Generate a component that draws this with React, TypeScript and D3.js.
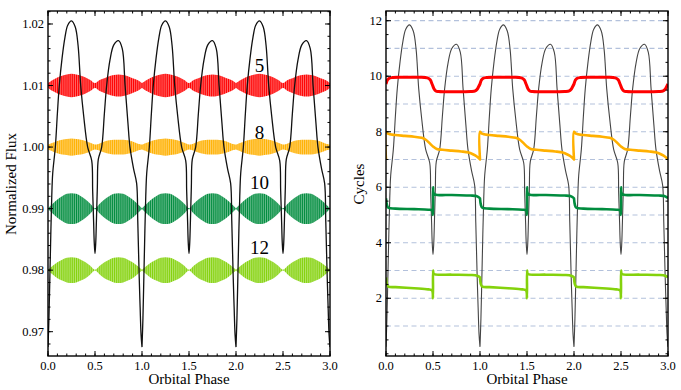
import React from "react";
import * as d3 from "d3";

const W = 681;
const H = 390;
const serif = "'Liberation Serif', 'Times New Roman', serif";

// the plot repeats one orbit three times
const orbits = [0, 1, 2];
const phaseTicks = [0, 0.5, 1, 1.5, 2, 2.5, 3];
const fluxTicks = [0.97, 0.98, 0.99, 1.0, 1.01, 1.02];
const cycleTicks = [2, 4, 6, 8, 10, 12];
const cycleGrid = [1, 2, 3, 4, 5, 6, 7, 8, 9, 10, 11, 12];

// light curve, one orbit
const lcPhase = [0, 0.01, 0.02, 0.03, 0.04, 0.05, 0.078, 0.1, 0.12, 0.15, 0.18, 0.21, 0.25, 0.29, 0.32, 0.348, 0.38, 0.422, 0.465, 0.475, 0.485, 0.492, 0.5, 0.508, 0.515, 0.525, 0.535, 0.571, 0.6, 0.624, 0.66, 0.7, 0.75, 0.79, 0.82, 0.85, 0.872, 0.91, 0.943, 0.955, 0.97, 0.98, 0.99, 1.0];
const lcFlux = [0.9675, 0.9722, 0.979, 0.986, 0.992, 0.9957, 1.0, 1.0055, 1.01, 1.0145, 1.0178, 1.0198, 1.0205, 1.0195, 1.0165, 1.01, 1.005, 1.0, 0.9978, 0.993, 0.988, 0.9845, 0.9827, 0.9845, 0.988, 0.9935, 0.998, 1.0, 1.0055, 1.01, 1.0142, 1.0166, 1.0173, 1.016, 1.01, 1.004, 1.0, 0.9965, 0.9941, 0.988, 0.979, 0.974, 0.9695, 0.9675];

// pulsation bands (half-width of the envelope, one orbit)
const bandNames = ["5", "8", "10", "12"];
const bandColors = ["#ff0000", "#ffb000", "#008c3e", "#84d20c"];
const bandCenters = [1.01, 1.0, 0.99, 0.98];
const bandLabelFlux = [1.0133, 1.0024, 0.9942, 0.9837];
const envPhase = [0, 0.05, 0.1, 0.15, 0.2, 0.25, 0.3, 0.35, 0.4, 0.45, 0.5, 0.55, 0.6, 0.65, 0.7, 0.75, 0.8, 0.85, 0.9, 0.95, 1.0];
const envRed = [0.0004, 0.0009, 0.0013, 0.0016, 0.0018, 0.0019, 0.0018, 0.0016, 0.0013, 0.0009, 0.0004, 0.0009, 0.0012, 0.0015, 0.0017, 0.0018, 0.0017, 0.0015, 0.0012, 0.0009, 0.0004];
const envOrange = [0.0004, 0.0007, 0.001, 0.0012, 0.0013, 0.0014, 0.0013, 0.0012, 0.001, 0.0007, 0.0004, 0.0006, 0.0009, 0.0011, 0.0012, 0.0012, 0.0012, 0.0011, 0.0009, 0.0006, 0.0004];
const envDarkGreen = [0.00005, 0.0008, 0.0015, 0.002, 0.0024, 0.0025, 0.0024, 0.002, 0.0015, 0.0008, 0.00005, 0.0008, 0.0015, 0.002, 0.0024, 0.0025, 0.0024, 0.002, 0.0015, 0.0008, 0.00005];
const envLightGreen = [0.00005, 0.0007, 0.0013, 0.0017, 0.002, 0.0021, 0.002, 0.0017, 0.0013, 0.0007, 0.00005, 0.0007, 0.0013, 0.0017, 0.002, 0.0021, 0.002, 0.0017, 0.0013, 0.0007, 0.00005];
const bandEnvs = [envRed, envOrange, envDarkGreen, envLightGreen];

// cycle curves, one orbit (right panel)
const redPhase = [0, 0.015, 0.03, 0.06, 0.2, 0.35, 0.44, 0.47, 0.49, 0.51, 0.53, 0.56, 0.75, 0.9, 0.95, 0.97, 0.985, 1.0];
const redCycles = [9.72, 9.86, 9.92, 9.95, 9.96, 9.96, 9.94, 9.87, 9.72, 9.55, 9.47, 9.45, 9.44, 9.45, 9.47, 9.53, 9.62, 9.72];
const orangePhase = [0, 0, 0.02, 0.1, 0.2, 0.3, 0.38, 0.42, 0.46, 0.5, 0.54, 0.6, 0.7, 0.8, 0.88, 0.93, 0.97, 1.0];
const orangeCycles = [7.0, 8.0, 7.93, 7.88, 7.85, 7.82, 7.78, 7.72, 7.6, 7.47, 7.38, 7.35, 7.32, 7.29, 7.25, 7.18, 7.1, 7.0];
const dGreenPhase = [0, 0.01, 0.025, 0.1, 0.3, 0.45, 0.49, 0.5, 0.5, 0.505, 0.52, 0.7, 0.9, 0.95, 0.97, 0.99, 1.0];
const dGreenCycles = [5.6, 5.36, 5.26, 5.23, 5.21, 5.19, 5.17, 5.0, 6.0, 5.8, 5.74, 5.72, 5.7, 5.69, 5.67, 5.63, 5.6];
const lGreenPhase = [0, 0.01, 0.025, 0.1, 0.3, 0.45, 0.49, 0.5, 0.5, 0.505, 0.52, 0.7, 0.9, 0.95, 0.97, 0.99, 1.0];
const lGreenCycles = [2.75, 2.5, 2.42, 2.4, 2.36, 2.32, 2.28, 2.0, 3.0, 2.9, 2.86, 2.85, 2.84, 2.83, 2.81, 2.78, 2.75];
const cycleSeries = [
  { phase: redPhase, cycles: redCycles, color: "#ff0000", width: 3 },
  { phase: orangePhase, cycles: orangeCycles, color: "#ffb000", width: 2.6 },
  { phase: dGreenPhase, cycles: dGreenCycles, color: "#008c3e", width: 2.6 },
  { phase: lGreenPhase, cycles: lGreenCycles, color: "#84d20c", width: 2.6 },
];

function tile(phase: number[], vals: number[]): [number, number][] {
  return orbits.flatMap((k) => phase.map((p, i) => [p + k, vals[i]] as [number, number]));
}

const top = 11;
const bottom = 356;
const xL = d3.scaleLinear().domain([0, 3]).range([48, 330]);
const xR = d3.scaleLinear().domain([0, 3]).range([386, 668]);
const yL = d3.scaleLinear().domain([0.96605, 1.02211]).range([bottom, top]);
const yR = d3.scaleLinear().domain([-0.08, 12.35]).range([bottom, top]);
// light curve drawn in the cycles panel on its own scale
const fluxToCycles = d3.scaleLinear().domain([0.9675, 1.0205]).range([0.25, 11.85]);

const phaseMinor = d3.range(0, 31).map((i) => i / 10);
const fluxMinor = d3.range(483, 512).map((i) => i * 0.002).filter((v) => v >= 0.96605 && v <= 1.02211);
const cycleMinor = d3.range(0, 25).map((i) => i * 0.5);

function Frame({ x, y, xMajor, xMinor, yMajor, yMinor, yFmt }: any) {
  const [x0, x1] = x.range();
  const [y0, y1] = y.range();
  const maj = 5;
  const min = 2.5;
  return (
    <g>
      {xMinor.map((v: number) => (
        <g key={"xm" + v}>
          <line x1={x(v)} x2={x(v)} y1={y0} y2={y0 - min} stroke="#000" />
          <line x1={x(v)} x2={x(v)} y1={y1} y2={y1 + min} stroke="#000" />
        </g>
      ))}
      {yMinor.map((v: number) => (
        <g key={"ym" + v}>
          <line x1={x0} x2={x0 + min} y1={y(v)} y2={y(v)} stroke="#000" />
          <line x1={x1} x2={x1 - min} y1={y(v)} y2={y(v)} stroke="#000" />
        </g>
      ))}
      {xMajor.map((v: number) => (
        <g key={"xM" + v}>
          <line x1={x(v)} x2={x(v)} y1={y0} y2={y0 - maj} stroke="#000" />
          <line x1={x(v)} x2={x(v)} y1={y1} y2={y1 + maj} stroke="#000" />
          <text x={x(v)} y={y0 + 13.5} textAnchor="middle" fontSize={12.5} fontFamily={serif}>
            {d3.format(".1f")(v)}
          </text>
        </g>
      ))}
      {yMajor.map((v: number) => (
        <g key={"yM" + v}>
          <line x1={x0} x2={x0 + maj} y1={y(v)} y2={y(v)} stroke="#000" />
          <line x1={x1} x2={x1 - maj} y1={y(v)} y2={y(v)} stroke="#000" />
          <text x={x0 - 4} y={y(v)} dy="0.33em" textAnchor="end" fontSize={12.5} fontFamily={serif}>
            {yFmt(v)}
          </text>
        </g>
      ))}
      <rect x={x0} y={y1} width={x1 - x0} height={y0 - y1} fill="none" stroke="#000" strokeWidth={1.4} />
    </g>
  );
}

export default function App() {
  const lc = tile(lcPhase, lcFlux);
  const smooth = d3.curveCatmullRom.alpha(0.5);
  const lcLineL = d3.line<[number, number]>().x((d) => xL(d[0])).y((d) => yL(d[1])).curve(smooth);
  const lcLineR = d3.line<[number, number]>().x((d) => xR(d[0])).y((d) => yR(fluxToCycles(d[1]))).curve(smooth);
  const cycLine = d3.line<[number, number]>().x((d) => xR(d[0])).y((d) => yR(d[1])).curve(smooth);

  return (
    <svg width={W} height={H} style={{ position: "absolute", left: 0, top: 0, background: "#fff" }}>
      <defs>
        <clipPath id="clipL">
          <rect x={48} y={top} width={282} height={bottom - top} />
        </clipPath>
        <clipPath id="clipR">
          <rect x={386} y={top} width={282} height={bottom - top} />
        </clipPath>
        {bandColors.map((c, i) => (
          <pattern key={c} id={"stripe" + i} patternUnits="userSpaceOnUse" width={1.9} height={6}>
            <rect width={1.9} height={6} fill={d3.interpolateRgb(c, "#fff")(0.4)} />
            <rect width={0.95} height={6} fill={c} />
          </pattern>
        ))}
      </defs>

      {/* left panel */}
      <g clipPath="url(#clipL)">
        {bandCenters.map((c, i) => {
          const env = tile(envPhase, bandEnvs[i]);
          const area = d3
            .area<[number, number]>()
            .x((d) => xL(d[0]))
            .y0((d) => yL(c - d[1]))
            .y1((d) => yL(c + d[1]))
            .curve(smooth);
          return <path key={i} d={area(env) || ""} fill={`url(#stripe${i})`} />;
        })}
        <path d={lcLineL(lc) || ""} fill="none" stroke="#111" strokeWidth={1.3} />
      </g>
      {bandNames.map((n, i) => (
        <text key={n} x={xL(2.25)} y={yL(bandLabelFlux[i])} dy="0.35em" textAnchor="middle" fontSize={19} fontFamily={serif}>
          {n}
        </text>
      ))}
      <Frame x={xL} y={yL} xMajor={phaseTicks} xMinor={phaseMinor} yMajor={fluxTicks} yMinor={fluxMinor} yFmt={d3.format(".2f")} />
      <text x={189} y={384} textAnchor="middle" fontSize={15} fontFamily={serif}>
        Orbital Phase
      </text>
      <text transform="translate(15.5,184) rotate(-90)" textAnchor="middle" fontSize={15} fontFamily={serif}>
        Normalized Flux
      </text>

      {/* right panel */}
      <g clipPath="url(#clipR)">
        {cycleGrid.map((v) => (
          <line key={v} x1={386} x2={668} y1={yR(v)} y2={yR(v)} stroke="#b3c1dc" strokeWidth={1.2} strokeDasharray="5,3.5" />
        ))}
        <path d={lcLineR(lc) || ""} fill="none" stroke="#444" strokeWidth={1.1} />
        {cycleSeries.map((s) => (
          <path key={s.color} d={cycLine(tile(s.phase, s.cycles)) || ""} fill="none" stroke={s.color} strokeWidth={s.width} strokeLinejoin="round" />
        ))}
      </g>
      <Frame x={xR} y={yR} xMajor={phaseTicks} xMinor={phaseMinor} yMajor={cycleTicks} yMinor={cycleMinor.filter((v) => v <= 12.35)} yFmt={d3.format("d")} />
      <text x={527} y={384} textAnchor="middle" fontSize={15} fontFamily={serif}>
        Orbital Phase
      </text>
      <text transform="translate(364,184) rotate(-90)" textAnchor="middle" fontSize={15} fontFamily={serif}>
        Cycles
      </text>
    </svg>
  );
}
